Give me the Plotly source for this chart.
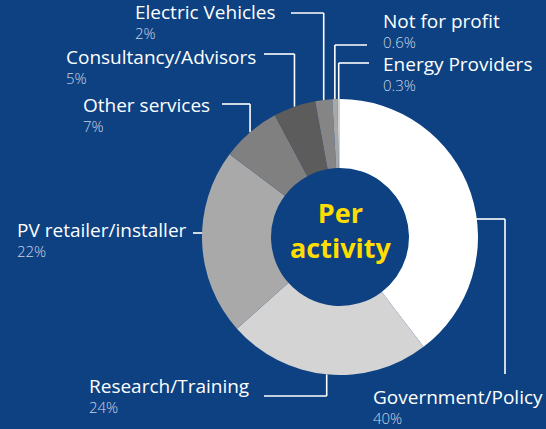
import math
import plotly.graph_objects as go

# ---- data ----
categories = ["Government/Policy", "Research/Training", "PV retailer/installer",
              "Other services", "Consultancy/Advisors", "Electric Vehicles",
              "Not for profit", "Energy Providers"]
values = [40, 24, 22, 7, 5, 2, 0.6, 0.3]
pct_labels = ["40%", "24%", "22%", "7%", "5%", "2%", "0.6%", "0.3%"]
colors = ["#ffffff", "#d4d4d4", "#a9a9a9", "#808080", "#5c5c5c", "#858585",
          "#a8a8a8", "#d0d0d0"]

# ---- layout constants (pixels) ----
W, H = 546, 429
CX, CY, R = 340, 237, 138
BG = "#0d4182"
NAME_SIZE, PCT_SIZE = 19, 15

def px(x):
    return x / W

def py(y):
    return 1 - y / H

# label placement: left x, pct baseline
label_pos = {
    "Government/Policy": (372, 425),
    "Research/Training": (88, 414),
    "PV retailer/installer": (16, 258),
    "Other services": (82, 133),
    "Consultancy/Advisors": (65, 85),
    "Electric Vehicles": (134, 40),
    "Not for profit": (382, 49),
    "Energy Providers": (382, 92),
}
# leader: kind, line y, start x (or elbow x / end y)
leaders = {
    "Government/Policy": ("hv", 219, 505, 374),
    "Research/Training": ("v", 396, 264, None),
    "PV retailer/installer": ("h", 233, 193, None),
    "Other services": ("v", 104, 222, None),
    "Consultancy/Advisors": ("v", 54, 264, None),
    "Electric Vehicles": ("v", 13, 291, None),
    "Not for profit": ("v", 45, 367, None),
    "Energy Providers": ("v", 63, 369, None),
}

fig = go.Figure(go.Pie(
    labels=categories, values=values, sort=False, direction="clockwise",
    rotation=0, hole=0.5, textinfo="none", hoverinfo="skip",
    marker=dict(colors=colors, line=dict(width=0)),
    domain=dict(x=[px(CX - R), px(CX + R)], y=[py(CY + R), py(CY - R)]),
    showlegend=False,
))

total = sum(values)
cum = 0
shapes = []
annotations = []
line_style = dict(color="white", width=1.6)

def seg(x0, y0, x1, y1):
    shapes.append(dict(type="line", xref="paper", yref="paper",
                       x0=px(x0), y0=py(y0), x1=px(x1), y1=py(y1),
                       line=line_style, layer="below"))

for cat, v, pl in zip(categories, values, pct_labels):
    mid = (cum + v / 2) / total
    cum += v
    th = 2 * math.pi * mid
    mx = CX + R * math.sin(th)
    my = CY - R * math.cos(th)
    kind, ly, sx, ey = leaders[cat]
    if kind == "v":
        seg(sx, ly, mx, ly)
        seg(mx, ly, mx, my)
    elif kind == "h":
        ex = CX - math.sqrt(R ** 2 - (ly - CY) ** 2)
        seg(sx, ly, ex + 2, ly)
    elif kind == "hv":
        ex = CX + math.sqrt(R ** 2 - (ly - CY) ** 2)
        seg(ex - 2, ly, sx, ly)
        seg(sx, ly, sx, ey)

    lx, pb = label_pos[cat]
    annotations.append(dict(
        text=(f"<span style='font-size:{NAME_SIZE}px;fill:#ffffff;font-weight:400'>"
              f"{cat}</span><br>{pl}"),
        x=px(lx - 1), y=py(pb + 0.293 * PCT_SIZE + 1),
        xref="paper", yref="paper", xanchor="left", yanchor="bottom",
        align="left", showarrow=False,
        font=dict(family="Open Sans", size=PCT_SIZE, color="#c9d3e3", weight=300)))

annotations.append(dict(
    text="Per<br>activity", x=px(CX), y=py(230),
    xref="paper", yref="paper", xanchor="center", yanchor="middle",
    showarrow=False,
    font=dict(family="Open Sans", size=27, color="#ffdd00", weight=700)))

fig.update_layout(
    width=W, height=H, margin=dict(l=0, r=0, t=0, b=0),
    paper_bgcolor=BG, plot_bgcolor=BG,
    shapes=shapes, annotations=annotations,
)

fig.write_html(
    "out.html",
    config={"displayModeBar": False},
    post_script="document.body.style.margin='0';document.body.style.overflow='hidden';",
)
